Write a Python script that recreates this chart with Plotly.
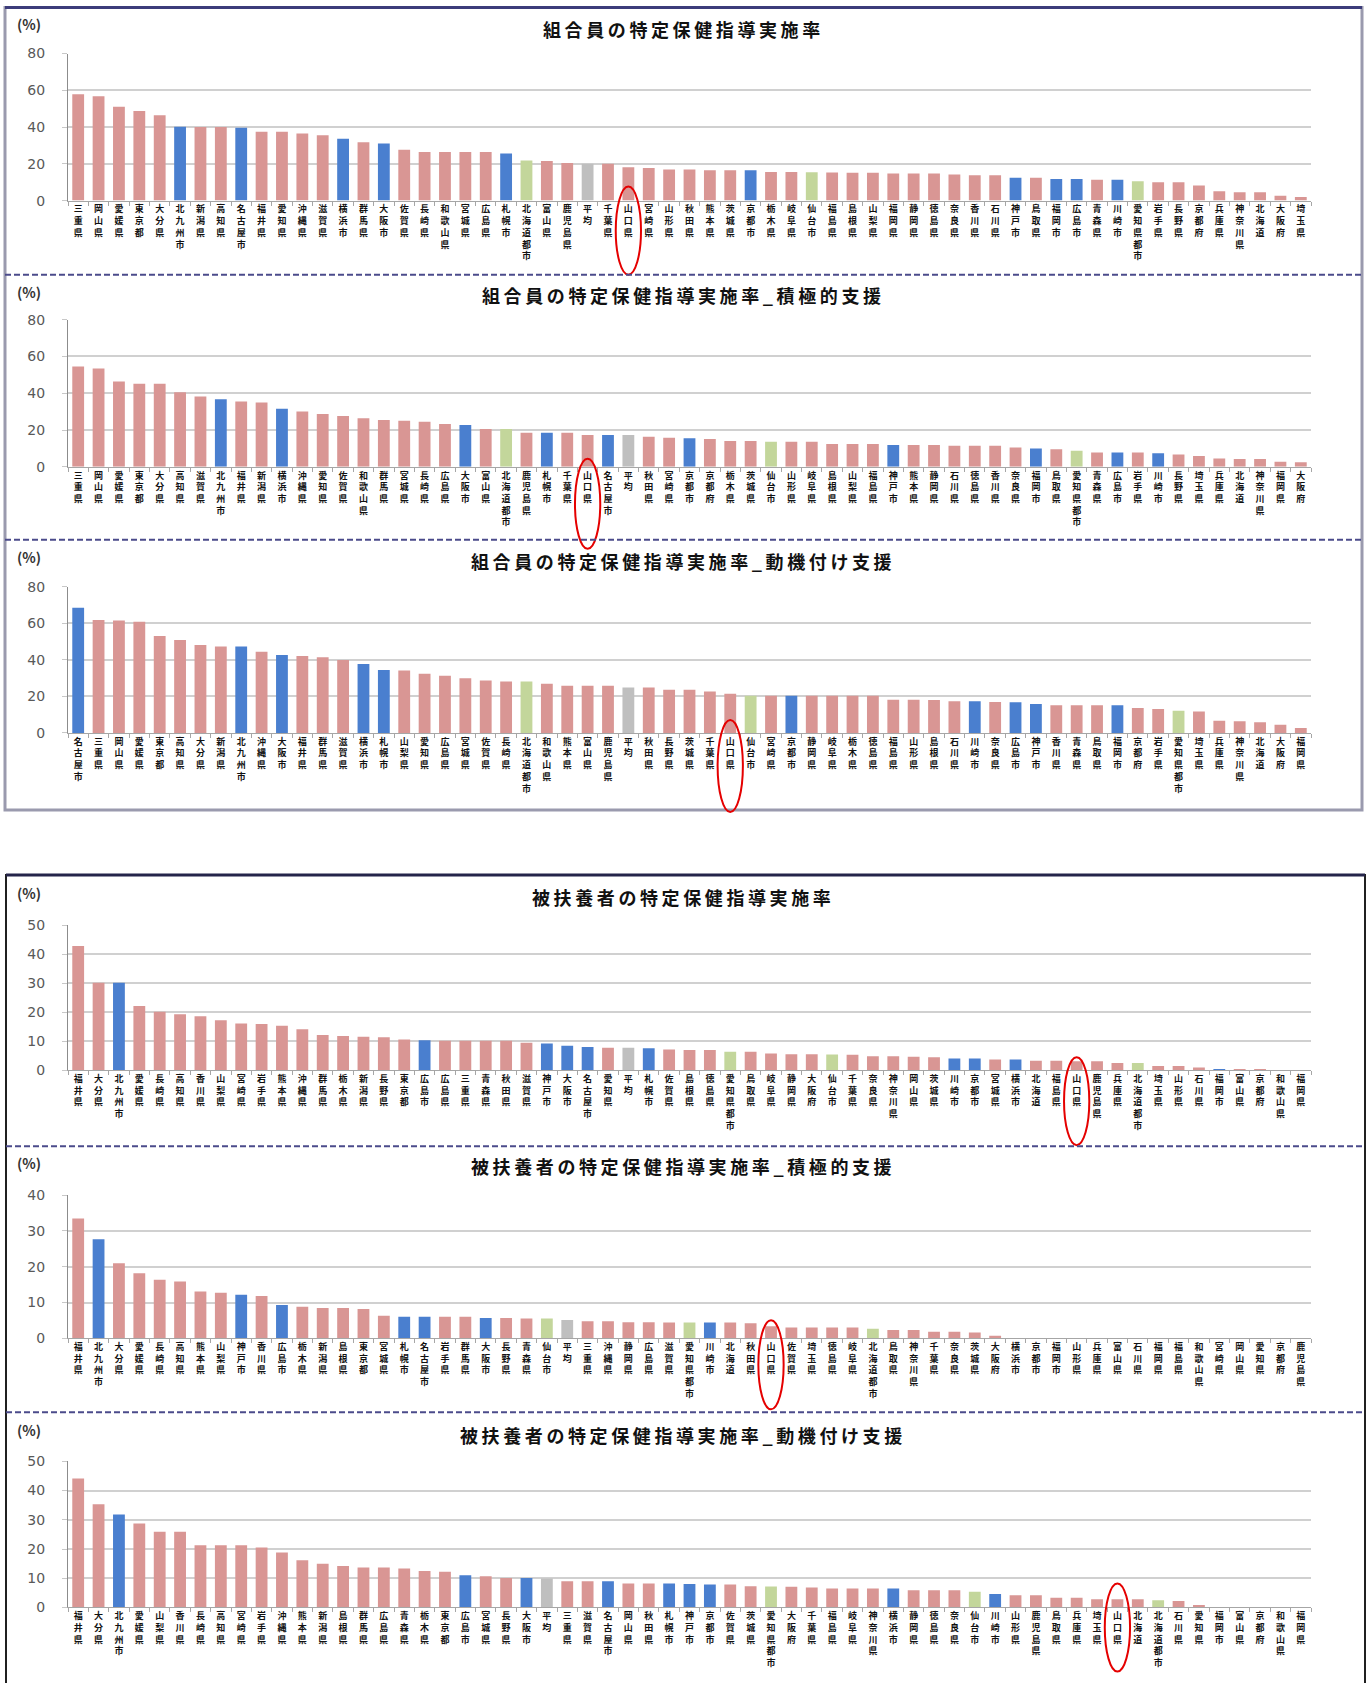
import plotly.graph_objects as go

W, H = 1367, 1683

# ---------------- data ----------------
CITY_NAMES = ["北九州市", "名古屋市", "横浜市", "大阪市", "札幌市", "京都市", "神戸市", "福岡市", "広島市", "川崎市"]
TOSHI_NAMES = ["北海道都市", "仙台市", "愛知県都市"]
AVERAGE_NAME = "平均"
HIGHLIGHT_NAME = "山口県"

titles = [
    "組合員の特定保健指導実施率",
    "組合員の特定保健指導実施率_積極的支援",
    "組合員の特定保健指導実施率_動機付け支援",
    "被扶養者の特定保健指導実施率",
    "被扶養者の特定保健指導実施率_積極的支援",
    "被扶養者の特定保健指導実施率_動機付け支援",
]

p1_names = ["三重県","岡山県","愛媛県","東京都","大分県","北九州市","新潟県","高知県","名古屋市","福井県",
            "愛知県","沖縄県","滋賀県","横浜市","群馬県","大阪市","佐賀県","長崎県","和歌山県","宮城県",
            "広島県","札幌市","北海道都市","富山県","鹿児島県","平均","千葉県","山口県","宮崎県","山形県",
            "秋田県","熊本県","茨城県","京都市","栃木県","岐阜県","仙台市","福島県","島根県","山梨県",
            "福岡県","静岡県","徳島県","奈良県","香川県","石川県","神戸市","鳥取県","福岡市","広島市",
            "青森県","川崎市","愛知県都市","岩手県","長野県","京都府","兵庫県","神奈川県","北海道","大阪府","埼玉県"]
p1_vals = [57.8,56.7,51.1,48.7,46.4,40.2,40.0,40.0,39.6,37.5,
           37.5,36.5,35.5,33.6,31.8,31.1,27.6,26.4,26.4,26.4,
           26.4,25.6,21.8,21.5,20.5,20.0,20.0,18.2,17.8,16.9,
           16.9,16.5,16.5,16.5,15.6,15.6,15.4,15.3,15.1,15.1,
           14.7,14.7,14.7,14.2,13.8,13.8,12.4,12.4,11.8,11.8,
           11.3,11.3,10.5,10.0,10.0,8.2,5.1,4.5,4.5,2.7,2.0]

p2_names = ["三重県","岡山県","愛媛県","東京都","大分県","高知県","滋賀県","北九州市","福井県","新潟県",
            "横浜市","沖縄県","愛知県","佐賀県","和歌山県","群馬県","宮城県","長崎県","広島県","大阪市",
            "富山県","北海道都市","鹿児島県","札幌市","千葉県","山口県","名古屋市","平均","秋田県","宮崎県",
            "京都市","京都府","栃木県","茨城県","仙台市","山形県","岐阜県","島根県","山梨県","福島県",
            "神戸市","熊本県","静岡県","石川県","徳島県","香川県","奈良県","福岡市","鳥取県","愛知県都市",
            "青森県","広島市","岩手県","川崎市","長野県","埼玉県","兵庫県","北海道","神奈川県","福岡県","大阪府"]
p2_vals = [54.5,53.5,46.4,45.1,45.1,40.5,38.2,36.7,35.5,34.9,
           31.5,30.0,28.7,27.6,26.4,25.5,25.1,24.5,23.3,22.7,
           20.5,20.5,18.5,18.5,18.5,17.3,17.3,17.3,16.4,15.8,
           15.5,15.1,14.0,14.0,13.6,13.6,13.6,12.4,12.4,12.4,
           11.8,11.8,11.8,11.5,11.5,11.5,10.5,10.0,9.5,8.7,
           7.8,7.8,7.8,7.3,6.7,5.8,4.5,4.2,4.2,2.7,2.4]

p3_names = ["名古屋市","三重県","岡山県","愛媛県","東京都","高知県","大分県","新潟県","北九州市","沖縄県",
            "大阪市","福井県","群馬県","滋賀県","横浜市","札幌市","山梨県","愛知県","広島県","宮城県",
            "佐賀県","長崎県","北海道都市","和歌山県","熊本県","富山県","鹿児島県","平均","秋田県","長野県",
            "茨城県","千葉県","山口県","仙台市","宮崎県","京都市","静岡県","岐阜県","栃木県","徳島県",
            "福島県","山形県","島根県","石川県","川崎市","奈良県","広島市","神戸市","香川県","青森県",
            "鳥取県","福岡市","京都府","岩手県","愛知県都市","埼玉県","兵庫県","神奈川県","北海道","大阪府","福岡県"]
p3_vals = [68.5,61.8,61.6,60.9,53.1,50.9,48.2,47.3,47.3,44.5,
           42.7,42.2,41.5,40.0,37.8,34.5,34.2,32.4,31.3,30.0,
           28.7,28.2,28.2,26.9,25.8,25.8,25.8,24.9,24.9,23.6,
           23.6,22.7,21.5,20.4,20.4,20.4,20.4,20.4,20.4,20.4,
           18.2,18.2,18.0,17.3,17.3,16.9,16.8,15.8,15.1,15.1,
           15.1,15.1,13.6,13.1,12.2,11.8,6.7,6.4,5.8,4.5,2.7]

p4_names = ["福井県","大分県","北九州市","愛媛県","長崎県","高知県","香川県","山梨県","宮崎県","岩手県",
            "熊本県","沖縄県","群馬県","栃木県","新潟県","長野県","東京都","広島市","広島県","三重県",
            "青森県","秋田県","滋賀県","神戸市","大阪市","名古屋市","愛知県","平均","札幌市","佐賀県",
            "島根県","徳島県","愛知県都市","鳥取県","岐阜県","静岡県","大阪府","仙台市","千葉県","奈良県",
            "神奈川県","岡山県","茨城県","川崎市","京都市","宮城県","横浜市","北海道","福島県","山口県",
            "鹿児島県","兵庫県","北海道都市","埼玉県","山形県","石川県","福岡市","富山県","京都府","和歌山県","福岡県"]
p4_vals = [42.8,30.1,30.1,22.1,20.1,19.3,18.6,17.2,16.1,15.9,
           15.3,14.1,12.1,11.8,11.5,11.3,10.6,10.3,10.1,10.1,
           10.1,10.1,9.4,9.2,8.4,8.0,7.7,7.7,7.5,7.1,
           6.9,6.9,6.3,6.3,5.7,5.5,5.5,5.4,5.3,4.8,
           4.8,4.6,4.4,4.0,4.0,3.7,3.7,3.2,3.2,3.1,
           3.1,2.5,2.5,1.4,1.4,0.9,0.2,0.1,0.1,0.0,0.0]

p5_names = ["福井県","北九州市","大分県","愛媛県","長崎県","高知県","熊本県","山梨県","神戸市","香川県",
            "広島市","栃木県","新潟県","島根県","東京都","宮城県","札幌市","名古屋市","岩手県","群馬県",
            "大阪市","長野県","青森県","仙台市","平均","三重県","沖縄県","静岡県","広島県","滋賀県",
            "愛知県都市","川崎市","北海道","秋田県","山口県","佐賀県","埼玉県","徳島県","岐阜県","北海道都市",
            "鳥取県","神奈川県","千葉県","奈良県","茨城県","大阪府","横浜市","京都市","福岡市","山形県",
            "兵庫県","富山県","石川県","福岡県","福島県","和歌山県","宮崎県","岡山県","愛知県","京都府","鹿児島県"]
p5_vals = [33.5,27.7,21.0,18.2,16.4,15.9,13.1,12.7,12.2,11.8,
           9.3,8.8,8.5,8.5,8.2,6.3,6.0,6.0,6.0,6.0,
           5.7,5.7,5.5,5.5,5.1,4.8,4.8,4.5,4.5,4.4,
           4.4,4.4,4.4,4.2,3.4,3.0,3.0,3.0,3.0,2.7,
           2.3,2.3,1.8,1.8,1.6,0.7,0.0,0.0,0.0,0.0,
           0.0,0.0,0.0,0.0,0.0,0.0,0.0,0.0,0.0,0.0,0.0]

p6_names = ["福井県","大分県","北九州市","愛媛県","山梨県","香川県","長崎県","高知県","宮崎県","岩手県",
            "沖縄県","熊本県","新潟県","島根県","群馬県","広島県","青森県","栃木県","東京都","広島市",
            "宮城県","長野県","大阪市","平均","三重県","滋賀県","名古屋市","岡山県","秋田県","札幌市",
            "神戸市","京都市","佐賀県","茨城県","愛知県都市","大阪府","千葉県","福島県","岐阜県","神奈川県",
            "横浜市","静岡県","徳島県","奈良県","仙台市","川崎市","山形県","鹿児島県","鳥取県","兵庫県",
            "埼玉県","山口県","北海道","北海道都市","石川県","愛知県","福岡市","富山県","京都府","和歌山県","福岡県"]
p6_vals = [44.1,35.3,31.8,28.7,25.9,25.9,21.3,21.3,21.3,20.5,
           18.8,16.2,15.0,14.2,13.7,13.7,13.3,12.5,12.2,11.0,
           10.7,10.1,10.1,9.9,9.0,9.0,9.0,8.2,8.2,8.2,
           8.0,7.9,7.9,7.3,7.2,7.1,6.8,6.5,6.5,6.5,
           6.5,5.9,5.9,5.9,5.4,4.6,4.2,4.2,3.3,3.3,
           2.8,2.8,2.8,2.5,2.2,0.8,0.0,0.0,0.0,0.0,0.0]

y_max = [80, 80, 80, 50, 40, 50]
y_dtick = [20, 20, 20, 10, 10, 10]

# ---------------- styling / layout ----------------
PINK = "#D99694"
BLUE = "#4A7FCF"
GREEN = "#C3D69B"
GRAY = "#BFBFBF"

def bar_color(name):
    if name in CITY_NAMES:
        return BLUE
    if name in TOSHI_NAMES:
        return GREEN
    if name == AVERAGE_NAME:
        return GRAY
    return PINK

# observed vertical inset of the paper area in the rendered page
VM = 8.5

def py(px):
    return 1 - (px - VM) / (H - 2 * VM)

def pxx(px):
    return px / W

X0, X1 = 68, 1311
# pixel layout of each panel: (y of top tick, y of zero, title y, (%) y, ellipse top, ellipse bottom)
panel_layout = [
    (54, 201, 29, 24, 187, 275),
    (320, 467, 295, 292, 459, 549),
    (587, 733, 561, 557, 720, 812),
    (925, 1070, 897, 893, 1057, 1145),
    (1195, 1338, 1166, 1163, 1320, 1409),
    (1461, 1607, 1435, 1430, 1583, 1671),
]

names_all = [p1_names, p2_names, p3_names, p4_names, p5_names, p6_names]
vals_all = [p1_vals, p2_vals, p3_vals, p4_vals, p5_vals, p6_vals]

fig = go.Figure()
shapes = []
annotations = []
layout_axes = {}

for i in range(6):
    k = "" if i == 0 else str(i + 1)
    xa, ya = "x" + k, "y" + k
    names = names_all[i]
    vals = vals_all[i]
    top_px, zero_px, title_px, pct_px, e_top, e_bot = panel_layout[i]

    fig.add_trace(go.Bar(
        x=names, y=vals, xaxis=xa, yaxis=ya,
        marker=dict(color=[bar_color(n) for n in names], line=dict(width=0)),
        showlegend=False, hovertemplate="%{x}: %{y}%<extra></extra>",
    ))

    layout_axes["xaxis" + k] = dict(
        domain=[pxx(X0), pxx(X1)], anchor=ya, type="category",
        categoryorder="array", categoryarray=names,
        tickmode="array", tickvals=names, ticktext=["<br>".join(n) for n in names],
        tickangle=0, ticks="outside", tickson="boundaries", ticklen=4,
        tickcolor="#A6A6A6", showline=True, linecolor="#A6A6A6", linewidth=1,
        showgrid=False, zeroline=False, fixedrange=True,
        tickfont=dict(family="Noto Sans CJK JP", size=9, color="#111111", weight="bold"),
    )
    layout_axes["yaxis" + k] = dict(
        domain=[py(zero_px), py(top_px)], anchor=xa,
        range=[0, y_max[i]], dtick=y_dtick[i], tick0=0,
        showgrid=True, gridcolor="#D0D0D0", gridwidth=2,
        showline=True, linecolor="#8C8C8C", linewidth=1,
        ticks="outside", ticklen=5, tickcolor="#C8C8C8",
        zeroline=False, fixedrange=True, ticklabelstandoff=14,
        tickfont=dict(family="DejaVu Sans", size=14, color="#595959"),
    )

    annotations.append(dict(
        text="\u2009".join(titles[i]), x=pxx(681), y=py(title_px), xref="paper", yref="paper",
        xanchor="center", yanchor="middle", showarrow=False,
        font=dict(family="Noto Sans CJK JP", size=18, color="#111111", weight="bold"),
    ))
    annotations.append(dict(
        text="(%)", x=pxx(29), y=py(pct_px), xref="paper", yref="paper",
        xanchor="center", yanchor="middle", showarrow=False,
        font=dict(family="Noto Sans CJK JP", size=14, color="#333333", weight="bold"),
    ))

    idx = names.index(HIGHLIGHT_NAME)
    shapes.append(dict(
        type="circle", xref=xa, yref="paper",
        x0=idx - 0.62, x1=idx + 0.62, y0=py(e_bot), y1=py(e_top),
        line=dict(color="#E50000", width=2),
    ))

# boxes
shapes.append(dict(type="rect", xref="paper", yref="paper",
                   x0=pxx(5), x1=pxx(1362), y0=py(810), y1=py(8),
                   line=dict(color="#9A9AAE", width=3), layer="below"))
shapes.append(dict(type="line", xref="paper", yref="paper",
                   x0=pxx(5), x1=pxx(1362), y0=py(8), y1=py(8),
                   line=dict(color="#3C3C7A", width=3)))
shapes.append(dict(type="rect", xref="paper", yref="paper",
                   x0=pxx(6), x1=pxx(1365), y0=py(1695), y1=py(875),
                   line=dict(color="#202020", width=2), layer="below"))
shapes.append(dict(type="line", xref="paper", yref="paper",
                   x0=pxx(6), x1=pxx(1365), y0=py(875), y1=py(875),
                   line=dict(color="#25254A", width=3)))
# dashed separators
for ypx, xa0, xa1 in [(275, 5, 1362), (540, 5, 1362), (1146, 6, 1365), (1412, 6, 1365)]:
    shapes.append(dict(type="line", xref="paper", yref="paper",
                       x0=pxx(xa0), x1=pxx(xa1), y0=py(ypx), y1=py(ypx),
                       line=dict(color="#4B4B8B", width=2, dash="6px,3px")))

fig.update_layout(
    width=W, height=H,
    margin=dict(l=0, r=0, t=0, b=0),
    paper_bgcolor="white", plot_bgcolor="white",
    bargap=0.42,
    shapes=shapes, annotations=annotations,
    **layout_axes,
)

fig.write_html("out.html", config={"displayModeBar": False},
               post_script="document.body.style.margin='0px';")
